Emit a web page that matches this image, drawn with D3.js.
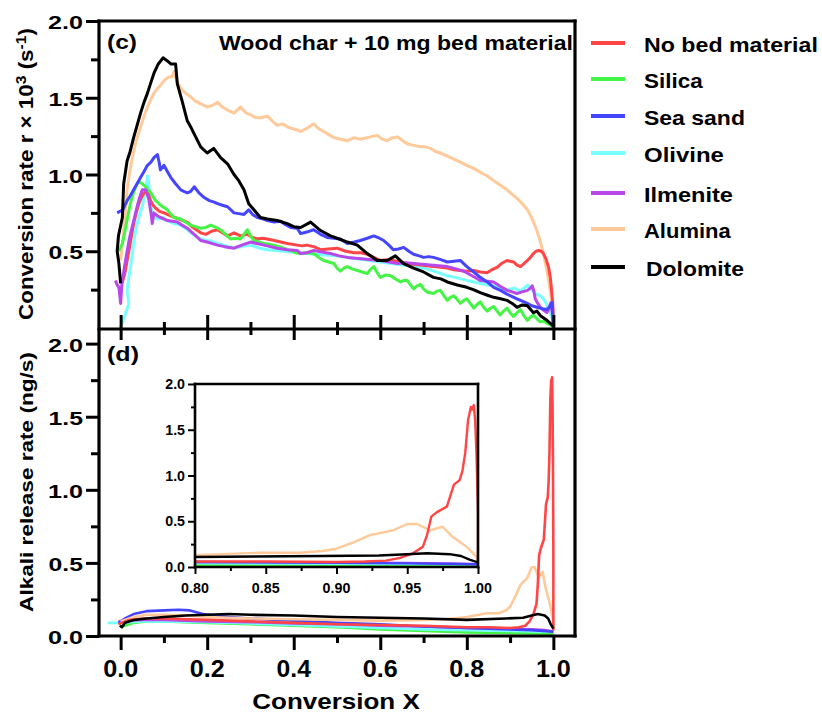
<!DOCTYPE html>
<html><head><meta charset="utf-8">
<script src="https://cdn.jsdelivr.net/npm/d3@7"></script>
<style>
body{margin:0;background:#fff;}
text{font-family:"Liberation Sans",Arial,Helvetica,sans-serif;font-weight:bold;fill:#000;}
</style>
</head><body>
<svg id="c" width="822" height="715"></svg>
<script>
// ---------------- DATA ----------------
const seriesNames  = ["No bed material","Silica","Sea sand","Olivine","Ilmenite","Alumina","Dolomite"];
const seriesColors = ["#ff4545","#45f545","#4545ff","#78ffff","#b848ea","#ffc99a","#000000"];

const xMajorTicks = [0.0,0.2,0.4,0.6,0.8,1.0];
const xMinorTicks = [0.1,0.3,0.5,0.7,0.9];
const yTopMajor = [2.0,1.5,1.0,0.5];
const yBotMajor = [2.0,1.5,1.0,0.5,0.0];
const yMinor = [1.75,1.25,0.75,0.25];
const insetXMajor = [0.80,0.85,0.90,0.95,1.00];
const insetXMinor = [0.825,0.875,0.925,0.975];
const insetYMajor = [0.0,0.5,1.0,1.5,2.0];
const insetYMinor = [0.25,0.75,1.25,1.75];

// (c) conversion rate r x 1e3 (s^-1) vs conversion X
const rateNoBed = [[0.003,0.29],[0.010,0.36],[0.019,0.50],[0.025,0.60],[0.030,0.68],[0.036,0.75],[0.042,0.81],[0.048,0.85],[0.054,0.88],[0.062,0.89],[0.069,0.83],[0.075,0.80],[0.081,0.78],[0.090,0.76],[0.100,0.75],[0.108,0.74],[0.116,0.73],[0.125,0.72],[0.135,0.71],[0.144,0.70],[0.154,0.69],[0.165,0.66],[0.175,0.64],[0.185,0.62],[0.197,0.61],[0.210,0.63],[0.224,0.64],[0.235,0.62],[0.247,0.60],[0.262,0.62],[0.277,0.60],[0.293,0.61],[0.305,0.59],[0.316,0.58],[0.328,0.585],[0.339,0.58],[0.355,0.57],[0.370,0.56],[0.385,0.55],[0.408,0.54],[0.420,0.535],[0.430,0.54],[0.446,0.53],[0.462,0.51],[0.480,0.515],[0.500,0.52],[0.520,0.50],[0.540,0.49],[0.555,0.49],[0.570,0.48],[0.585,0.46],[0.600,0.44],[0.615,0.445],[0.630,0.44],[0.645,0.43],[0.662,0.42],[0.677,0.415],[0.693,0.41],[0.708,0.405],[0.723,0.40],[0.740,0.395],[0.755,0.39],[0.770,0.38],[0.785,0.375],[0.800,0.37],[0.816,0.375],[0.831,0.365],[0.847,0.36],[0.858,0.38],[0.870,0.395],[0.880,0.42],[0.893,0.44],[0.900,0.435],[0.908,0.43],[0.916,0.41],[0.924,0.40],[0.932,0.42],[0.940,0.44],[0.947,0.46],[0.954,0.485],[0.960,0.50],[0.966,0.505],[0.972,0.50],[0.977,0.485],[0.983,0.45],[0.989,0.395],[0.993,0.33],[0.995,0.27],[0.998,0.18],[0.999,0.14],[1.000,0.02]];
const rateSilica = [[-0.004,0.50],[0.004,0.55],[0.010,0.63],[0.016,0.72],[0.021,0.79],[0.026,0.85],[0.032,0.90],[0.038,0.94],[0.042,0.955],[0.050,0.94],[0.058,0.92],[0.064,0.90],[0.070,0.88],[0.075,0.855],[0.081,0.83],[0.087,0.815],[0.092,0.80],[0.100,0.785],[0.108,0.77],[0.115,0.745],[0.123,0.72],[0.131,0.715],[0.139,0.71],[0.150,0.69],[0.162,0.67],[0.173,0.66],[0.185,0.65],[0.197,0.655],[0.208,0.67],[0.220,0.655],[0.231,0.64],[0.243,0.61],[0.254,0.58],[0.266,0.585],[0.277,0.58],[0.285,0.61],[0.293,0.64],[0.300,0.60],[0.308,0.57],[0.320,0.56],[0.331,0.55],[0.343,0.545],[0.354,0.54],[0.366,0.53],[0.377,0.52],[0.385,0.51],[0.393,0.505],[0.405,0.49],[0.416,0.485],[0.430,0.49],[0.446,0.485],[0.458,0.46],[0.469,0.44],[0.481,0.43],[0.493,0.42],[0.500,0.39],[0.508,0.37],[0.516,0.39],[0.524,0.40],[0.535,0.385],[0.547,0.375],[0.558,0.365],[0.570,0.355],[0.577,0.38],[0.585,0.40],[0.593,0.36],[0.600,0.33],[0.612,0.345],[0.624,0.34],[0.635,0.32],[0.647,0.30],[0.655,0.31],[0.662,0.31],[0.670,0.28],[0.677,0.255],[0.685,0.275],[0.693,0.285],[0.700,0.255],[0.708,0.235],[0.716,0.23],[0.723,0.225],[0.731,0.24],[0.739,0.245],[0.747,0.21],[0.755,0.18],[0.762,0.20],[0.770,0.21],[0.778,0.185],[0.785,0.16],[0.793,0.18],[0.800,0.19],[0.808,0.16],[0.816,0.13],[0.824,0.155],[0.831,0.17],[0.839,0.135],[0.847,0.11],[0.855,0.13],[0.862,0.14],[0.870,0.11],[0.877,0.085],[0.885,0.11],[0.893,0.13],[0.900,0.10],[0.908,0.075],[0.916,0.10],[0.924,0.12],[0.932,0.08],[0.940,0.05],[0.947,0.07],[0.954,0.085],[0.962,0.06],[0.970,0.04],[0.978,0.045],[0.985,0.03],[0.993,0.02],[1.000,0.01]];
const rateSeaSand = [[-0.008,0.75],[0.005,0.77],[0.015,0.83],[0.022,0.86],[0.030,0.90],[0.038,0.94],[0.046,0.98],[0.054,1.02],[0.062,1.06],[0.070,1.08],[0.077,1.11],[0.085,1.13],[0.089,1.08],[0.092,1.03],[0.100,1.06],[0.108,1.02],[0.116,0.98],[0.127,0.94],[0.139,0.90],[0.146,0.89],[0.154,0.88],[0.162,0.89],[0.170,0.92],[0.181,0.88],[0.193,0.85],[0.205,0.83],[0.216,0.82],[0.224,0.81],[0.235,0.80],[0.247,0.79],[0.262,0.75],[0.273,0.745],[0.285,0.74],[0.296,0.77],[0.305,0.74],[0.316,0.72],[0.330,0.71],[0.339,0.70],[0.355,0.69],[0.370,0.695],[0.377,0.68],[0.393,0.655],[0.408,0.65],[0.416,0.615],[0.430,0.625],[0.446,0.64],[0.462,0.61],[0.477,0.59],[0.493,0.585],[0.508,0.58],[0.524,0.55],[0.540,0.56],[0.554,0.57],[0.570,0.585],[0.585,0.60],[0.598,0.585],[0.608,0.57],[0.620,0.54],[0.630,0.51],[0.642,0.515],[0.654,0.525],[0.666,0.50],[0.677,0.48],[0.690,0.47],[0.700,0.46],[0.712,0.465],[0.723,0.46],[0.740,0.445],[0.755,0.43],[0.770,0.435],[0.785,0.44],[0.800,0.40],[0.816,0.365],[0.831,0.33],[0.847,0.30],[0.862,0.265],[0.878,0.245],[0.893,0.22],[0.905,0.205],[0.916,0.19],[0.928,0.175],[0.940,0.16],[0.950,0.145],[0.962,0.135],[0.975,0.125],[0.985,0.12],[0.992,0.14],[0.997,0.165],[1.000,0.02]];
const rateOlivine = [[-0.002,0.0],[0.003,0.03],[0.011,0.09],[0.019,0.16],[0.015,0.245],[0.019,0.33],[0.023,0.40],[0.027,0.48],[0.030,0.55],[0.034,0.62],[0.038,0.68],[0.044,0.74],[0.050,0.79],[0.054,0.85],[0.058,0.90],[0.062,0.99],[0.065,0.94],[0.069,0.80],[0.073,0.75],[0.077,0.72],[0.087,0.71],[0.098,0.72],[0.108,0.70],[0.123,0.68],[0.139,0.67],[0.150,0.65],[0.162,0.62],[0.173,0.60],[0.185,0.58],[0.200,0.57],[0.212,0.565],[0.224,0.55],[0.240,0.54],[0.250,0.53],[0.262,0.52],[0.280,0.53],[0.300,0.54],[0.320,0.52],[0.339,0.51],[0.358,0.505],[0.377,0.50],[0.393,0.495],[0.408,0.49],[0.430,0.485],[0.446,0.48],[0.470,0.475],[0.500,0.47],[0.525,0.46],[0.550,0.45],[0.575,0.44],[0.600,0.43],[0.625,0.42],[0.650,0.41],[0.675,0.40],[0.700,0.39],[0.725,0.37],[0.755,0.34],[0.780,0.325],[0.800,0.31],[0.825,0.295],[0.847,0.28],[0.870,0.27],[0.893,0.25],[0.910,0.26],[0.924,0.24],[0.940,0.28],[0.950,0.25],[0.960,0.22],[0.970,0.21],[0.980,0.18],[0.990,0.12],[0.997,0.07],[1.000,0.02]];
const rateIlmenite = [[-0.012,0.31],[-0.008,0.28],[-0.004,0.265],[0.000,0.16],[0.003,0.29],[0.009,0.40],[0.015,0.50],[0.020,0.58],[0.026,0.65],[0.032,0.72],[0.038,0.79],[0.044,0.85],[0.050,0.90],[0.058,0.90],[0.065,0.84],[0.070,0.75],[0.073,0.68],[0.077,0.75],[0.085,0.73],[0.092,0.72],[0.100,0.71],[0.108,0.70],[0.120,0.695],[0.131,0.69],[0.142,0.67],[0.154,0.65],[0.170,0.61],[0.185,0.57],[0.200,0.56],[0.212,0.55],[0.224,0.54],[0.240,0.53],[0.262,0.52],[0.280,0.54],[0.300,0.56],[0.315,0.55],[0.331,0.54],[0.346,0.53],[0.362,0.52],[0.385,0.51],[0.408,0.505],[0.416,0.485],[0.430,0.49],[0.446,0.505],[0.465,0.495],[0.485,0.485],[0.505,0.47],[0.524,0.46],[0.543,0.455],[0.562,0.45],[0.580,0.445],[0.600,0.44],[0.620,0.43],[0.640,0.42],[0.660,0.425],[0.677,0.42],[0.697,0.415],[0.716,0.41],[0.735,0.405],[0.755,0.40],[0.775,0.385],[0.793,0.37],[0.812,0.34],[0.831,0.31],[0.847,0.305],[0.862,0.30],[0.878,0.27],[0.893,0.245],[0.905,0.235],[0.916,0.225],[0.928,0.235],[0.940,0.245],[0.947,0.26],[0.951,0.275],[0.955,0.24],[0.958,0.19],[0.964,0.16],[0.970,0.135],[0.978,0.115],[0.985,0.10],[0.990,0.13],[0.994,0.165],[0.998,0.09],[1.000,0.02]];
const rateAlumina = [[0.000,0.44],[0.007,0.63],[0.015,0.90],[0.020,1.00],[0.027,1.11],[0.036,1.22],[0.046,1.31],[0.054,1.38],[0.062,1.44],[0.070,1.49],[0.077,1.53],[0.085,1.56],[0.092,1.58],[0.100,1.61],[0.108,1.63],[0.119,1.64],[0.123,1.67],[0.131,1.60],[0.142,1.55],[0.150,1.53],[0.160,1.51],[0.172,1.48],[0.185,1.46],[0.200,1.44],[0.212,1.45],[0.224,1.47],[0.235,1.44],[0.247,1.42],[0.262,1.40],[0.277,1.44],[0.290,1.40],[0.300,1.39],[0.312,1.37],[0.323,1.37],[0.339,1.38],[0.350,1.35],[0.362,1.32],[0.375,1.33],[0.385,1.31],[0.396,1.30],[0.408,1.29],[0.416,1.28],[0.430,1.30],[0.446,1.33],[0.457,1.30],[0.469,1.28],[0.481,1.26],[0.493,1.24],[0.508,1.23],[0.524,1.22],[0.540,1.24],[0.554,1.23],[0.570,1.24],[0.585,1.25],[0.593,1.255],[0.605,1.23],[0.616,1.22],[0.628,1.24],[0.640,1.245],[0.652,1.22],[0.662,1.20],[0.677,1.19],[0.693,1.18],[0.705,1.18],[0.716,1.17],[0.728,1.15],[0.739,1.14],[0.755,1.12],[0.770,1.10],[0.785,1.08],[0.800,1.06],[0.816,1.04],[0.831,1.015],[0.847,0.99],[0.862,0.96],[0.878,0.93],[0.893,0.90],[0.905,0.87],[0.916,0.845],[0.928,0.81],[0.940,0.77],[0.948,0.73],[0.954,0.69],[0.960,0.65],[0.966,0.60],[0.972,0.54],[0.977,0.485],[0.981,0.43],[0.985,0.375],[0.989,0.31],[0.993,0.245],[0.996,0.18],[0.999,0.11],[1.000,0.02]];
const rateDolomite = [[0.000,0.29],[-0.004,0.42],[-0.008,0.50],[-0.005,0.60],[0.004,0.72],[0.007,0.94],[0.015,1.09],[0.022,1.15],[0.030,1.24],[0.038,1.32],[0.046,1.40],[0.054,1.47],[0.062,1.53],[0.070,1.60],[0.077,1.66],[0.087,1.72],[0.098,1.76],[0.108,1.74],[0.116,1.72],[0.127,1.72],[0.131,1.59],[0.142,1.48],[0.154,1.35],[0.162,1.31],[0.169,1.27],[0.185,1.18],[0.200,1.14],[0.215,1.17],[0.231,1.11],[0.247,1.07],[0.262,1.00],[0.273,0.96],[0.285,0.90],[0.296,0.81],[0.308,0.77],[0.323,0.72],[0.339,0.71],[0.362,0.70],[0.385,0.68],[0.400,0.66],[0.416,0.655],[0.439,0.69],[0.462,0.635],[0.485,0.60],[0.505,0.58],[0.524,0.56],[0.547,0.54],[0.570,0.485],[0.593,0.44],[0.616,0.44],[0.635,0.47],[0.654,0.42],[0.677,0.39],[0.700,0.365],[0.723,0.33],[0.740,0.32],[0.755,0.30],[0.778,0.28],[0.800,0.265],[0.815,0.25],[0.831,0.23],[0.846,0.215],[0.862,0.20],[0.878,0.19],[0.893,0.18],[0.905,0.16],[0.916,0.135],[0.928,0.15],[0.940,0.145],[0.954,0.10],[0.962,0.11],[0.970,0.08],[0.985,0.05],[0.997,0.02],[1.000,0.01]];

// (d) alkali release rate (ng/s) vs conversion X
const alkNoBed = [[-0.005,0.08],[0.020,0.11],[0.050,0.12],[0.100,0.12],[0.200,0.11],[0.300,0.10],[0.400,0.09],[0.500,0.08],[0.600,0.075],[0.700,0.07],[0.800,0.06],[0.850,0.06],[0.900,0.055],[0.920,0.06],[0.935,0.07],[0.945,0.10],[0.954,0.15],[0.961,0.22],[0.964,0.35],[0.967,0.55],[0.971,0.60],[0.978,0.66],[0.983,0.90],[0.987,0.95],[0.989,1.05],[0.991,1.25],[0.993,1.61],[0.995,1.75],[0.996,1.72],[0.997,1.77],[0.998,1.60],[0.999,1.20],[1.000,0.60],[1.000,0.04]];
const alkSilica = [[0.000,0.065],[0.010,0.07],[0.030,0.09],[0.060,0.10],[0.100,0.10],[0.200,0.09],[0.300,0.08],[0.400,0.07],[0.500,0.06],[0.600,0.045],[0.700,0.035],[0.800,0.025],[0.900,0.02],[1.000,0.015]];
const alkSeaSand = [[-0.005,0.09],[0.010,0.12],[0.030,0.15],[0.060,0.17],[0.100,0.175],[0.134,0.18],[0.160,0.175],[0.190,0.15],[0.250,0.13],[0.300,0.12],[0.400,0.105],[0.500,0.09],[0.600,0.08],[0.700,0.065],[0.800,0.055],[0.900,0.045],[0.950,0.04],[1.000,0.03]];
const alkOlivine = [[-0.030,0.09],[0.000,0.09],[0.020,0.095],[0.050,0.10],[0.100,0.10],[0.200,0.095],[0.300,0.085],[0.400,0.075],[0.500,0.065],[0.600,0.055],[0.700,0.045],[0.800,0.04],[0.900,0.035],[1.000,0.03]];
const alkIlmenite = [[-0.005,0.10],[0.020,0.105],[0.050,0.11],[0.100,0.11],[0.200,0.10],[0.300,0.095],[0.400,0.085],[0.500,0.08],[0.600,0.07],[0.700,0.065],[0.800,0.055],[0.900,0.05],[0.950,0.045],[0.980,0.04],[1.000,0.03]];
const alkAlumina = [[0.000,0.10],[0.030,0.13],[0.060,0.145],[0.100,0.145],[0.150,0.14],[0.200,0.13],[0.300,0.12],[0.400,0.115],[0.500,0.11],[0.600,0.105],[0.700,0.11],[0.750,0.115],[0.800,0.13],[0.846,0.156],[0.874,0.156],[0.890,0.175],[0.900,0.20],[0.912,0.27],[0.924,0.35],[0.940,0.40],[0.950,0.47],[0.957,0.47],[0.966,0.40],[0.975,0.44],[0.982,0.33],[0.992,0.22],[0.999,0.11],[1.000,0.05]];
const alkDolomite = [[-0.002,0.07],[0.003,0.06],[0.010,0.09],[0.030,0.11],[0.060,0.12],[0.100,0.13],[0.150,0.14],[0.250,0.15],[0.300,0.145],[0.400,0.14],[0.500,0.13],[0.600,0.125],[0.700,0.12],[0.800,0.11],[0.890,0.12],[0.930,0.125],[0.950,0.14],[0.964,0.15],[0.980,0.14],[0.988,0.12],[0.994,0.08],[1.000,0.05]];

const rateSeries = [rateNoBed,rateSilica,rateSeaSand,rateOlivine,rateIlmenite,rateAlumina,rateDolomite];
const alkSeries  = [alkNoBed,alkSilica,alkSeaSand,alkOlivine,alkIlmenite,alkAlumina,alkDolomite];
const topOrder = [5,3,0,1,4,2,6];
const botOrder = [1,3,4,2,5,0,6];

// ---------------- CHART ----------------
const svg = d3.select("#c");
const L = 99, R = 575, T = 21, M = 329, B = 636;
const x = d3.scaleLinear().domain([-0.05,1.05]).range([L,R]);
const yTop = d3.scaleLinear().domain([0,2]).range([328,T]);
const yBot = d3.scaleLinear().domain([0,2.1]).range([B,M]);
const xi = d3.scaleLinear().domain([0.8,1.0]).range([195,478]);
const yi = d3.scaleLinear().domain([0,2]).range([567,384]);

const defs = svg.append("defs");
defs.append("clipPath").attr("id","clipTop").append("rect").attr("x",L).attr("y",T).attr("width",R-L).attr("height",M-T);
defs.append("clipPath").attr("id","clipBot").append("rect").attr("x",L).attr("y",M).attr("width",R-L).attr("height",B-M);
defs.append("clipPath").attr("id","clipIn").append("rect").attr("x",195).attr("y",384).attr("width",283).attr("height",183);

function fit(sel, target){
  const w = sel.node().getBBox().width;
  sel.attr("transform", `scale(${target/w},1)`);
}
function label(parent, px, py, rot, anchor, size, str, target){
  const g = parent.append("g").attr("transform",`translate(${px},${py}) rotate(${rot})`);
  const t = g.append("text").attr("x",0).attr("y",0).attr("text-anchor",anchor).attr("font-size",size).text(str);
  if(target) fit(t,target);
  return t;
}

// lines
const lineTop = d3.line().x(d=>x(d[0])).y(d=>yTop(d[1]));
const lineBot = d3.line().x(d=>x(d[0])).y(d=>yBot(d[1]));
const lineIn  = d3.line().x(d=>xi(d[0])).y(d=>yi(d[1]));

svg.append("g").attr("clip-path","url(#clipTop)").selectAll("path").data(topOrder).join("path")
  .attr("d",i=>lineTop(rateSeries[i])).attr("fill","none").attr("stroke",i=>seriesColors[i])
  .attr("stroke-width",3).attr("stroke-linejoin","round");

svg.append("g").attr("clip-path","url(#clipBot)").selectAll("path").data(botOrder).join("path")
  .attr("d",i=>lineBot(alkSeries[i])).attr("fill","none").attr("stroke",i=>seriesColors[i])
  .attr("stroke-width",2.6).attr("stroke-linejoin","round");

// axes ticks
function styleAxis(g){ g.select(".domain").remove(); g.selectAll("line").attr("stroke","#000").attr("stroke-width",3); }
svg.append("g").attr("transform",`translate(${L},0)`).call(d3.axisLeft(yTop).tickValues(yTopMajor).tickSize(13).tickFormat("")).call(styleAxis);
svg.append("g").attr("transform",`translate(${L},0)`).call(d3.axisLeft(yTop).tickValues(yMinor).tickSize(8).tickFormat("")).call(styleAxis);
svg.append("g").attr("transform",`translate(${L},0)`).call(d3.axisLeft(yBot).tickValues(yBotMajor).tickSize(13).tickFormat("")).call(styleAxis);
svg.append("g").attr("transform",`translate(${L},0)`).call(d3.axisLeft(yBot).tickValues(yMinor).tickSize(8).tickFormat("")).call(styleAxis);
svg.append("g").attr("transform",`translate(0,${M})`).call(d3.axisBottom(x).tickValues(xMajorTicks).tickSize(11).tickFormat("")).call(styleAxis)
  .selectAll("line").attr("y1",-14);
svg.append("g").attr("transform",`translate(0,${M})`).call(d3.axisBottom(x).tickValues(xMinorTicks).tickSize(6).tickFormat("")).call(styleAxis)
  .selectAll("line").attr("y1",-7);
svg.append("g").attr("transform",`translate(0,${B})`).call(d3.axisBottom(x).tickValues(xMajorTicks).tickSize(14).tickFormat("")).call(styleAxis);
svg.append("g").attr("transform",`translate(0,${B})`).call(d3.axisBottom(x).tickValues(xMinorTicks).tickSize(7).tickFormat("")).call(styleAxis);

// frame
const frame = svg.append("g").attr("stroke","#000").attr("stroke-width",3.2).attr("stroke-linecap","square");
[[L,T,R,T],[R,T,R,B],[L,T,L,B],[L,M,R,M],[L,B,R,B]].forEach(s=>
  frame.append("line").attr("x1",s[0]).attr("y1",s[1]).attr("x2",s[2]).attr("y2",s[3]));

// tick labels
const fmt1 = d3.format(".1f");
yTopMajor.forEach(v=>label(svg,83,yTop(v)+8,0,"end",19,fmt1(v),35));
yBotMajor.forEach(v=>label(svg,83,yBot(v)+8,0,"end",19,fmt1(v),35));
xMajorTicks.forEach(v=>label(svg,x(v),677,0,"middle",24,fmt1(v),35));

// axis titles
label(svg,336,709,0,"middle",22,"Conversion X",168);
{
  const g = svg.append("g").attr("transform","translate(33,174) rotate(-90)");
  const t = g.append("text").attr("text-anchor","middle").attr("font-size",20);
  t.append("tspan").text("Conversion rate r × 10");
  t.append("tspan").attr("dy",-7).attr("font-size",14).text("3");
  t.append("tspan").attr("dy",7).text(" (s");
  t.append("tspan").attr("dy",-7).attr("font-size",14).text("-1");
  t.append("tspan").attr("dy",7).text(")");
  fit(t,292);
}
label(svg,33,482,-90,"middle",19,"Alkali release rate (ng/s)",260);

// panel labels
label(svg,107,49,0,"start",21,"(c)",30);
label(svg,107,361,0,"start",21,"(d)",32);
label(svg,219,50,0,"start",20.5,"Wood char + 10 mg bed material",354);

// legend
const legendRows = [43,79,116,153,193,229,267];
const legendW = [174,59,101,80,89,87,98];
seriesNames.forEach((n,i)=>{
  svg.append("line").attr("x1",591).attr("x2",625).attr("y1",legendRows[i]).attr("y2",legendRows[i])
    .attr("stroke",seriesColors[i]).attr("stroke-width",4);
  label(svg,i===6?646:644,legendRows[i]+8.5,0,"start",21,n,legendW[i]);
});

// ---------------- INSET ----------------
const inset = svg.append("g");
inset.append("g").attr("clip-path","url(#clipIn)").selectAll("path").data(botOrder).join("path")
  .attr("d",i=>lineIn(alkSeries[i].filter(d=>d[0]>=0.79))).attr("fill","none").attr("stroke",i=>seriesColors[i])
  .attr("stroke-width",2.4).attr("stroke-linejoin","round");
function styleIn(g){ g.select(".domain").remove(); g.selectAll("line").attr("stroke","#000").attr("stroke-width",2); }
inset.append("g").attr("transform","translate(195,0)").call(d3.axisLeft(yi).tickValues(insetYMajor).tickSize(7).tickFormat("")).call(styleIn);
inset.append("g").attr("transform","translate(195,0)").call(d3.axisLeft(yi).tickValues(insetYMinor).tickSize(4).tickFormat("")).call(styleIn);
inset.append("g").attr("transform","translate(0,567)").call(d3.axisBottom(xi).tickValues(insetXMajor).tickSize(7).tickFormat("")).call(styleIn);
inset.append("g").attr("transform","translate(0,567)").call(d3.axisBottom(xi).tickValues(insetXMinor).tickSize(4).tickFormat("")).call(styleIn);
const fr = inset.append("g").attr("stroke","#000").attr("stroke-width",2.6).attr("stroke-linecap","square");
[[195,384,478,384],[478,384,478,567],[195,384,195,567],[195,567,478,567]].forEach(s=>
  fr.append("line").attr("x1",s[0]).attr("y1",s[1]).attr("x2",s[2]).attr("y2",s[3]));
insetYMajor.forEach(v=>label(inset,185,yi(v)+5,0,"end",14,fmt1(v),20));
insetXMajor.forEach(v=>label(inset,xi(v),593,0,"middle",14,d3.format(".2f")(v),28));
</script>
</body></html>
